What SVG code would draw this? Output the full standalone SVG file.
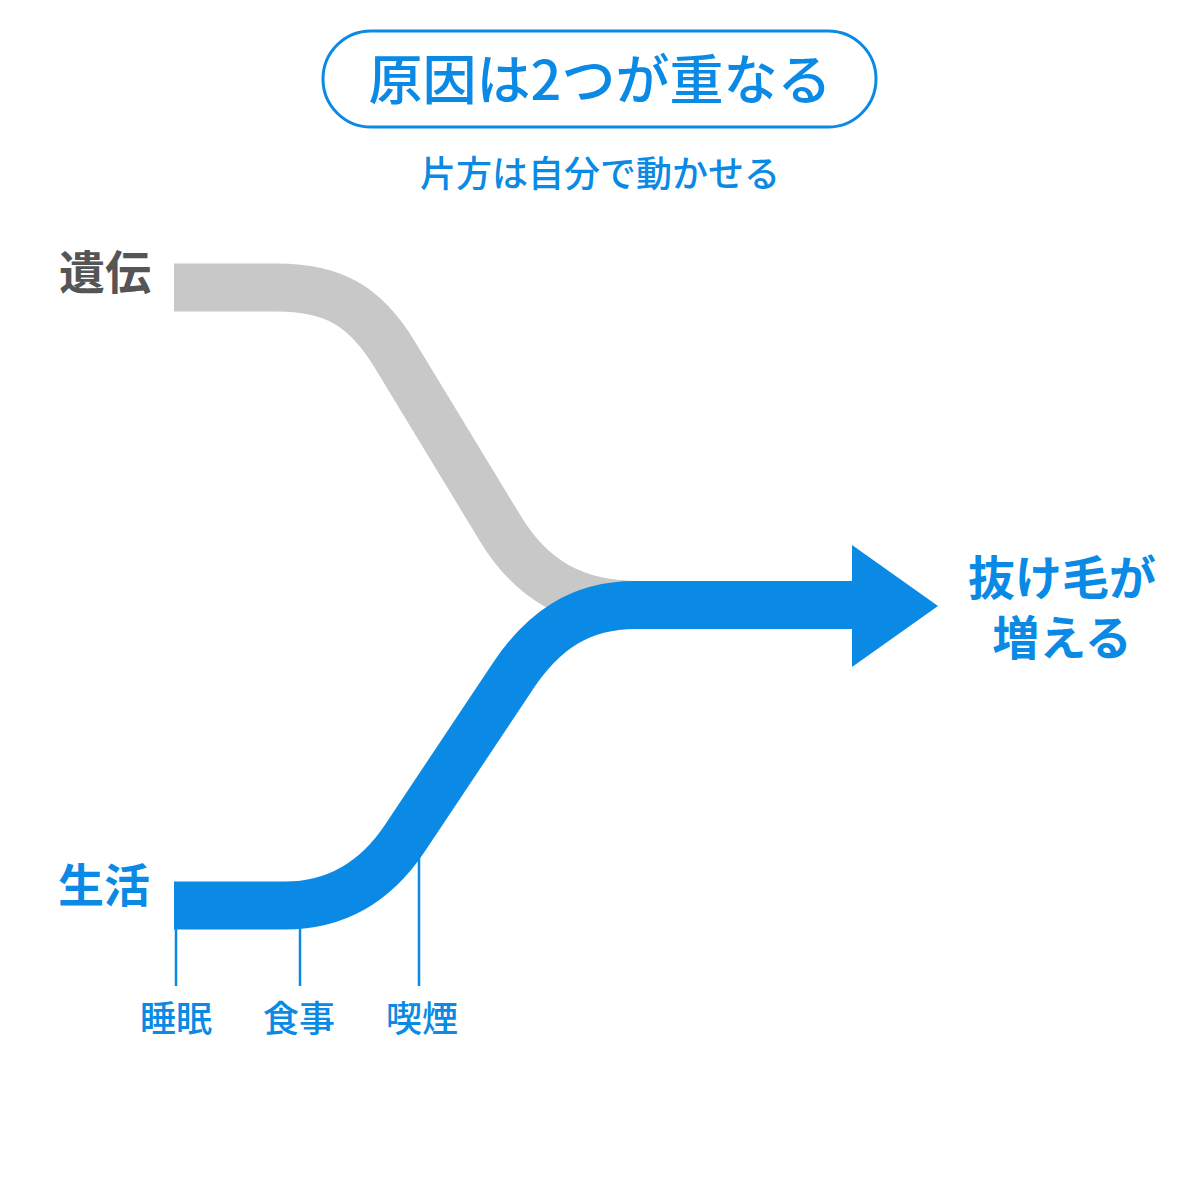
<svg xmlns="http://www.w3.org/2000/svg" width="1200" height="1200" viewBox="0 0 1200 1200">
<style>
text{font-family:"Noto Sans CJK JP","Noto Sans",sans-serif;font-weight:700;text-anchor:middle}
.blue{fill:#0A8AE5}
.gray{fill:#555555}
.med{font-weight:500}
.flow{fill:none;stroke-width:48;stroke-linecap:butt;stroke-linejoin:round}
.tick{stroke:#0A8AE5;stroke-width:2.5}
</style>
<rect width="1200" height="1200" fill="#ffffff"/>
<g id="title">
<rect x="323" y="31" width="553" height="96" rx="48" fill="#ffffff" stroke="#0A8AE5" stroke-width="3"/>
<text x="600" y="100" font-size="54" class="blue med">原因は2つが重なる</text>
</g>
<g id="subtitle">
<text x="600" y="187" font-size="36" class="blue med">片方は自分で動かせる</text>
</g>
<g id="connectors">
<path class="flow" stroke="#C8C8C8" d="M174,287.5 H277 C332,287.5 365,305 395,355 L500,528 C530,578 572,605 640,605"/>
<path class="flow" stroke="#0A8AE5" d="M174,905.5 H285 C335,905.5 375,883 405,838 L513,676 C543,631 580,605 635,605 H853"/>
<polygon points="852,545 938,606 852,667" fill="#0A8AE5"/>
<line class="tick" x1="176" y1="928" x2="176" y2="986"/>
<line class="tick" x1="300" y1="928" x2="300" y2="986"/>
<line class="tick" x1="419" y1="855" x2="419" y2="986"/>
</g>
<g id="node-heredity">
<text x="105" y="289" font-size="46" class="gray">遺伝</text>
</g>
<g id="node-lifestyle">
<text x="104" y="902" font-size="46" class="blue">生活</text>
</g>
<g id="node-result">
<text x="1062" y="595" font-size="47" class="blue">抜け毛が</text>
<text x="1062" y="655" font-size="47" class="blue">増える</text>
</g>
<g id="label-sleep">
<text x="176" y="1032" font-size="36" class="blue med">睡眠</text>
</g>
<g id="label-diet">
<text x="299" y="1032" font-size="36" class="blue med">食事</text>
</g>
<g id="label-smoking">
<text x="422" y="1032" font-size="36" class="blue med">喫煙</text>
</g>
</svg>
